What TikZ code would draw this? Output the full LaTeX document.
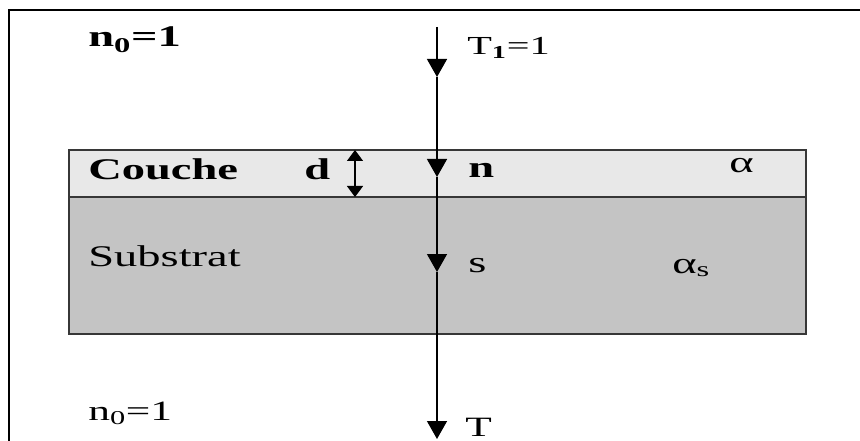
\documentclass[tikz,border=0pt]{standalone}
\usepackage{fontspec}
\setmainfont{Liberation Serif}
\usetikzlibrary{arrows.meta,positioning}
\definecolor{layerLight}{RGB}{232,232,232}
\definecolor{layerDark}{RGB}{196,196,196}
\definecolor{edgeGray}{RGB}{55,55,55}
\tikzset{
  lbl/.style={anchor=base west, inner sep=0pt, xscale=1.55,
              font=\fontsize{30}{34}\selectfont},
  layer/.style={rectangle, draw=edgeGray, line width=1.5pt, fill=#1,
                minimum width=737pt, inner sep=0pt, outer sep=0pt},
  ray/.style={-{Triangle[length=18pt,width=20pt]}, line width=1.4pt},
  gap/.style={{Triangle[length=11pt,width=16pt]}-{Triangle[length=11pt,width=16pt]}, line width=1.4pt},
}

\begin{document}
\begin{tikzpicture}[x=1pt, y=-1pt]
        \useasboundingbox (0,0) rectangle (860,441);
        % frame
        \coordinate (corner) at (9,10);
        \coordinate (frtop) at (860,10);
        \coordinate (frbot) at (9,441);
        \draw[line width=2pt] (frtop) -- (corner) -- (frbot);

        % layers
        \node[layer=layerLight, minimum height=47pt, anchor=north west] (couche) at (69,150) {};
        \node[layer=layerDark, minimum height=137pt, below=0pt of couche] (substrat) {};

        % ray
        \coordinate (src) at (437,27);
        \coordinate (p1) at (437,77);
        \coordinate (p2) at (437,177);
        \coordinate (p3) at (437,272);
        \coordinate (p4) at (437,439);
        \draw[ray] (src) -- (p1);
        \draw[ray] (p1) -- (p2);
        \draw[ray] (p2) -- (p3);
        \draw[ray] (p3) -- (p4);

        % thickness d
        \coordinate (dx) at (355,0);
        \draw[gap] (couche.north -| dx) -- (couche.south -| dx);

        % labels
        \node[lbl, font=\fontsize{30}{34}\selectfont\bfseries] (n0top) at (88,47) {n\textsubscript{0}=1};
        \node[lbl, font=\fontsize{26}{30}\selectfont] (t1) at (467,55) {T\textsubscript{\textbf{1}}=1};
        \node[lbl, font=\fontsize{30}{34}\selectfont\bfseries] (couchelbl) at (88,180) {Couche};
        \node[lbl, font=\fontsize{30}{34}\selectfont\bfseries] (d) at (304,180) {d};
        \node[lbl, font=\fontsize{30}{34}\selectfont\bfseries] (n) at (468,178) {n};
        \node[lbl] (alpha) at (729,172) {α};
        \node[lbl] (substratlbl) at (88,266) {Substrat};
        \node[lbl] (s) at (468,272) {s};
        \node[lbl] (alphas) at (672,273) {α\textsubscript{s}};
        \node[lbl, font=\fontsize{28}{32}\selectfont] (n0bot) at (88,420) {n\textsubscript{0}=1};
        \node[lbl, font=\fontsize{28}{32}\selectfont] (t) at (465,436) {T};
      \end{tikzpicture}
\end{document}
